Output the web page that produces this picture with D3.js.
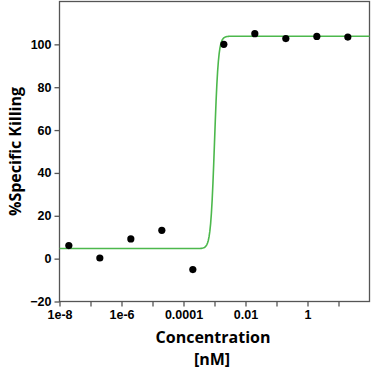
<!DOCTYPE html>
<html>
<head>
<meta charset="utf-8">
<script src="https://cdn.jsdelivr.net/npm/d3@7"></script>
<style>
  body { margin: 0; background: #fff; }
  svg { display: block; font-family: "Open Sans", "DejaVu Sans", sans-serif; }
</style>
</head>
<body>
<div id="chart"></div>
<script>
// measured points (concentration in nM, % specific killing)
const concentrations = [2e-8, 2e-7, 2e-6, 2e-5, 2e-4, 2e-3, 2e-2, 2e-1, 2e0, 2e1];
const killing = [6.1, 0.3, 9.2, 13.2, -5.1, 100.0, 105.0, 102.7, 103.7, 103.4];

// 4PL fit parameters
const fitBottom = 4.7;
const fitTop = 103.8;
const fitLogEC50 = -3.0;
const fitHill = 7;

// axis ticks
const xTicks = [1e-8, 1e-7, 1e-6, 1e-5, 1e-4, 1e-3, 1e-2, 1e-1, 1, 10];
const xTickLabels = ["1e-8", "", "1e-6", "", "0.0001", "", "0.01", "", "1", ""];
const yTicks = [-20, 0, 20, 40, 60, 80, 100];

const W = 373, H = 372;
const plot = { left: 59.5, right: 369.5, top: 1.5, bottom: 301.5 };

const svg = d3.select("#chart").append("svg").attr("width", W).attr("height", H);

const x = d3.scaleLog().domain([1e-8, 1e2]).range([plot.left, plot.right]);
const y = d3.scaleLinear().domain([-20, 120]).range([plot.bottom, plot.top]);

// frame
svg.append("rect")
  .attr("x", plot.left).attr("y", plot.top)
  .attr("width", plot.right - plot.left).attr("height", plot.bottom - plot.top)
  .attr("fill", "none").attr("stroke", "#555").attr("stroke-width", 1.3);

// axes
const xAxis = svg.append("g")
  .attr("transform", `translate(0,${plot.bottom})`)
  .call(d3.axisBottom(x).tickValues(xTicks).tickSize(5).tickPadding(4)
    .tickFormat((d, i) => xTickLabels[i]));
const yAxis = svg.append("g")
  .attr("transform", `translate(${plot.left},0)`)
  .call(d3.axisLeft(y).tickValues(yTicks).tickSize(5).tickPadding(3));

[xAxis, yAxis].forEach(a => {
  a.select(".domain").remove();
  a.selectAll(".tick line").attr("stroke", "#555").attr("stroke-width", 1.3);
  a.selectAll(".tick text").attr("fill", "#000").attr("font-size", 12.5).attr("font-weight", 600);
});

// fitted curve
const curveX = d3.range(0, 401).map(i => Math.pow(10, -8 + i * 10 / 400));
const fit = c => fitBottom + (fitTop - fitBottom) / (1 + Math.pow(10, (fitLogEC50 - Math.log10(c)) * fitHill));
svg.append("path")
  .datum(curveX)
  .attr("fill", "none")
  .attr("stroke", "#4cb84c")
  .attr("stroke-width", 1.6)
  .attr("d", d3.line().x(d => x(d)).y(d => y(fit(d))));

// points
svg.append("g").selectAll("circle")
  .data(concentrations)
  .join("circle")
  .attr("cx", d => x(d))
  .attr("cy", (d, i) => y(killing[i]))
  .attr("r", 3.6)
  .attr("fill", "#000");

// titles
svg.append("text")
  .attr("x", 213).attr("y", 343)
  .attr("text-anchor", "middle")
  .attr("font-size", 16).attr("font-weight", 700)
  .text("Concentration");
svg.append("text")
  .attr("x", 212).attr("y", 365)
  .attr("text-anchor", "middle")
  .attr("font-size", 16).attr("font-weight", 700)
  .text("[nM]");
svg.append("text")
  .attr("transform", `translate(21,${(plot.top + plot.bottom) / 2}) rotate(-90)`)
  .attr("text-anchor", "middle")
  .attr("font-size", 16).attr("font-weight", 700)
  .text("%Specific Killing");
</script>
</body>
</html>
